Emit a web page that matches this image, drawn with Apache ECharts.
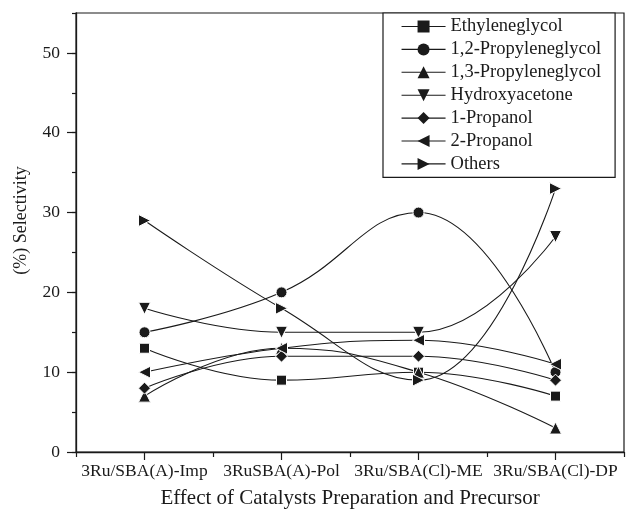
<!DOCTYPE html>
<html>
<head>
<meta charset="utf-8">
<script src="https://cdn.jsdelivr.net/npm/echarts@6/dist/echarts.min.js"></script>
<style>
  html, body { margin: 0; padding: 0; background: #fff; }
  #chart { width: 632px; height: 518px; }
</style>
</head>
<body>
<div id="chart"></div>
<script>
// Catalyst preparations on the category axis
const categories = ['3Ru/SBA(A)-Imp', '3RuSBA(A)-Pol', '3Ru/SBA(Cl)-ME', '3Ru/SBA(Cl)-DP'];

// Product selectivities (%)
const ethyleneglycol   = [13, 9, 10, 7];
const propyleneglycol12 = [15, 20, 30, 10];
const propyleneglycol13 = [7, 13, 10, 3];
const hydroxyacetone   = [18, 15, 15, 27];
const propanol1        = [8, 12, 12, 9];
const propanol2        = [10, 13, 14, 11];
const others           = [29, 18, 9, 33];

const seriesNames = ['Ethyleneglycol', '1,2-Propyleneglycol', '1,3-Propyleneglycol',
  'Hydroxyacetone', '1-Propanol', '2-Propanol', 'Others'];
const seriesValues = [ethyleneglycol, propyleneglycol12, propyleneglycol13,
  hydroxyacetone, propanol1, propanol2, others];

// Marker shape, size and rotation for each product
const markers = [
  { symbol: 'rect', size: 10, rotate: 0 },
  { symbol: 'circle', size: 11, rotate: 0 },
  { symbol: 'triangle', size: 12, rotate: 0 },
  { symbol: 'triangle', size: 12, rotate: 180 },
  { symbol: 'diamond', size: 12, rotate: 0 },
  { symbol: 'triangle', size: 12, rotate: 90 },
  { symbol: 'triangle', size: 12, rotate: -90 }
];

const FONT = '"Liberation Serif", "Times New Roman", serif';
const INK = '#1a1a1a';

const chart = echarts.init(document.getElementById('chart'), null, { renderer: 'canvas' });

const series = seriesNames.map((name, i) => ({
  name: name,
  type: 'line',
  data: seriesValues[i],
  smooth: 0.45,
  symbol: markers[i].symbol,
  symbolSize: markers[i].size,
  symbolRotate: markers[i].rotate,
  showAllSymbol: true,
  lineStyle: { color: INK, width: 1.1 },
  itemStyle: { color: INK, borderColor: '#fff', borderWidth: 1 },
  emphasis: { disabled: true },
  animation: false
}));

chart.setOption({
  animation: false,
  backgroundColor: '#fff',
  grid: {
    left: 76, right: 8, top: 13, bottom: 66,
    show: true, borderColor: INK, borderWidth: 1.2, backgroundColor: 'transparent'
  },
  legend: {
    orient: 'vertical',
    left: 383, top: 13,
    padding: [4, 14, 4, 18],
    itemWidth: 44, itemHeight: 15, itemGap: 3.9,
    borderColor: INK, borderWidth: 1.2,
    backgroundColor: '#fff',
    selectedMode: false,
    itemStyle: { borderWidth: 0 },
    lineStyle: { width: 1.1 },
    textStyle: { fontFamily: FONT, fontSize: 18.5, color: INK, lineHeight: 18.5 },
    data: seriesNames
  },
  xAxis: [
    {
      type: 'category',
      data: categories,
      boundaryGap: true,
      axisLine: { lineStyle: { color: INK, width: 1.3 } },
      axisTick: { show: true, length: 5, alignWithLabel: false, lineStyle: { color: INK, width: 1.2 } },
      axisLabel: { interval: 0, margin: 10, fontFamily: FONT, fontSize: 17.5, color: INK },
      name: 'Effect of Catalysts Preparation and Precursor',
      nameLocation: 'middle',
      nameGap: 36,
      nameTextStyle: { fontFamily: FONT, fontSize: 21, color: INK },
      splitLine: { show: false }
    },
    {
      type: 'category',
      data: categories,
      position: 'bottom',
      boundaryGap: true,
      axisLine: { show: false },
      axisTick: { show: true, length: 8, alignWithLabel: true, lineStyle: { color: INK, width: 1.2 } },
      axisLabel: { show: false },
      splitLine: { show: false }
    }
  ],
  yAxis: [
    {
      type: 'value',
      min: 0, max: 55, interval: 10,
      axisLine: { show: true, lineStyle: { color: INK, width: 1.3 } },
      axisTick: { show: true, length: 9, lineStyle: { color: INK, width: 1.2 } },
      axisLabel: { margin: 16, showMaxLabel: false, fontFamily: FONT, fontSize: 17.5, color: INK },
      name: '(%) Selectivity',
      nameLocation: 'middle',
      nameGap: 46,
      nameTextStyle: { fontFamily: FONT, fontSize: 18, color: INK, padding: [0, 0, 0, 24] },
      splitLine: { show: false }
    },
    {
      type: 'value',
      position: 'left',
      min: 0, max: 55, interval: 5,
      axisLine: { show: false },
      axisTick: { show: true, length: 4, lineStyle: { color: INK, width: 1.2 } },
      axisLabel: { show: false },
      splitLine: { show: false }
    }
  ],
  series: series
});
</script>
</body>
</html>
